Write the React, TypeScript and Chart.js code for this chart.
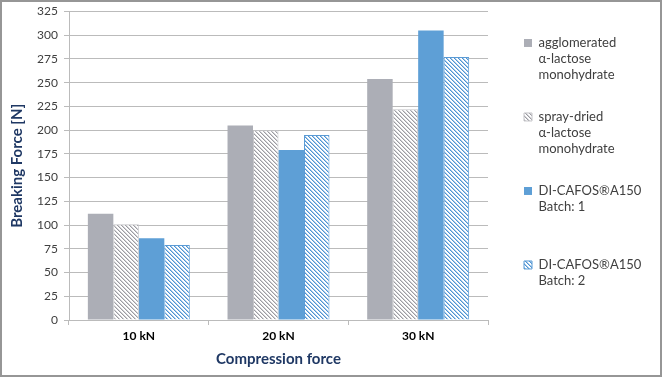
import React, { useEffect, useRef } from 'react';
import { Chart, registerables } from 'chart.js';

Chart.register(...registerables);

const categories = ['10 kN', '20 kN', '30 kN'];
const agglomerated = [112, 205, 254];
const sprayDried = [101, 200, 222];
const batch1 = [86, 179, 305];
const batch2 = [79, 195, 277];

const datasetNames = [
  'agglomerated α-lactose monohydrate',
  'spray-dried α-lactose monohydrate',
  'DI-CAFOS®A150 Batch: 1',
  'DI-CAFOS®A150 Batch: 2',
];
const PAD = ' '.repeat(60);
const legendLines = [
  ['agglomerated', 'α-lactose', 'monohydrate'],
  ['spray-dried', 'α-lactose', 'monohydrate'],
  ['DI-CAFOS®A150', 'Batch: 1', PAD],
  ['DI-CAFOS®A150', 'Batch: 2', PAD],
];

const yMin = 0;
const yMax = 325;
const yStep = 25;

const yTitle = 'Breaking Force [N]';
const xTitle = 'Compression force';

const FONT = 'Lato, "Open Sans", sans-serif';
const GRAY = '#ACAEB6';
const BLUE = '#5E9FD6';
const GRID = '#BBBBBB';
const NAVY = '#1F3864';

function makeHatch(color: string, soft: string) {
  const c = document.createElement('canvas');
  c.width = 4;
  c.height = 4;
  const g = c.getContext('2d')!;
  g.fillStyle = '#FFFFFF';
  g.fillRect(0, 0, 4, 4);
  for (let i = 0; i < 4; i++) {
    g.fillStyle = color;
    g.fillRect(i, i, 1, 1);
    g.fillStyle = soft;
    g.fillRect((i + 1) % 4, i, 1, 1);
  }
  return g.createPattern(c, 'repeat')!;
}

export default function App() {
  const ref = useRef<HTMLCanvasElement | null>(null);

  useEffect(() => {
    const canvas = ref.current;
    if (!canvas) return;
    const grayHatch = makeHatch('#9C9CA2', '#D2D2D6');
    const blueHatch = makeHatch('#4F93D2', '#A9CBEA');

    const chart = new Chart(canvas, {
      type: 'bar',
      data: {
        labels: categories,
        datasets: [
          { label: datasetNames[0], data: agglomerated, backgroundColor: GRAY, borderWidth: 0 },
          { label: datasetNames[1], data: sprayDried, backgroundColor: grayHatch, borderColor: '#C4C4C8', borderWidth: 1 },
          { label: datasetNames[2], data: batch1, backgroundColor: BLUE, borderWidth: 0 },
          { label: datasetNames[3], data: batch2, backgroundColor: blueHatch, borderColor: '#5B9BD5', borderWidth: 1 },
        ],
      },
      options: {
        responsive: false,
        animation: false,
        devicePixelRatio: 1,
        layout: { padding: { top: 0, left: 0, right: 0, bottom: 0 } },
        datasets: {
          bar: { categoryPercentage: 0.73, barPercentage: 1, borderSkipped: 'start' },
        },
        plugins: {
          tooltip: { enabled: false },
          legend: {
            position: 'right',
            align: 'start',
            maxWidth: 162,
            title: { display: true, text: ' ', font: { size: 7, lineHeight: 1.21 }, padding: 0 },
            labels: {
              boxWidth: 8,
              boxHeight: 8,
              padding: 26,
              color: '#404040',
              font: { family: FONT, size: 13, lineHeight: 16 / 13 },
              generateLabels: (chart: any) => {
                const items = Chart.defaults.plugins.legend.labels.generateLabels(chart);
                return items.map((it: any, i: number) => ({ ...it, text: legendLines[i] }));
              },
            },
          },
        },
        scales: {
          x: {
            offset: true,
            grid: { display: true, drawOnChartArea: false, drawTicks: true, tickLength: 5, color: GRID, offset: true },
            border: { display: true, color: GRID },
            ticks: { color: '#000000', padding: 4, font: { family: FONT, size: 12, weight: 'bold' }, maxRotation: 0 },
            title: { display: true, text: xTitle, color: NAVY, font: { family: FONT, size: 15, weight: 'bold', lineHeight: 1.2 }, padding: { top: 0, bottom: 7 } },
            afterFit: (s: any) => { s.height = 55; },
          },
          y: {
            min: yMin,
            max: yMax,
            grid: { color: GRID, tickLength: 5, drawTicks: true },
            border: { display: true, color: GRID },
            ticks: { stepSize: yStep, color: '#404040', padding: 6, font: { family: FONT, size: 12 } },
            title: { display: true, text: yTitle, color: NAVY, font: { family: FONT, size: 15, weight: 'bold', lineHeight: 1.2 }, padding: { top: 6, bottom: 0 } },
            afterFit: (s: any) => { s.width = 67; s.paddingTop = 9.5; },
          },
          spacer: {
            type: 'linear',
            position: 'right',
            display: true,
            grid: { display: false, drawTicks: false },
            border: { display: false },
            ticks: { display: false },
            afterFit: (s: any) => { s.width = 10; },
          },
        },
      } as any,
    });
    return () => chart.destroy();
  }, []);

  return (
    <div
      style={{
        position: 'absolute',
        left: 0,
        top: 0,
        width: 662,
        height: 377,
        boxSizing: 'border-box',
        border: '2px solid #969696',
        background: '#FFFFFF',
      }}
    >
      <canvas ref={ref} width={658} height={373} style={{ display: 'block', width: 658, height: 373 }} />
    </div>
  );
}
